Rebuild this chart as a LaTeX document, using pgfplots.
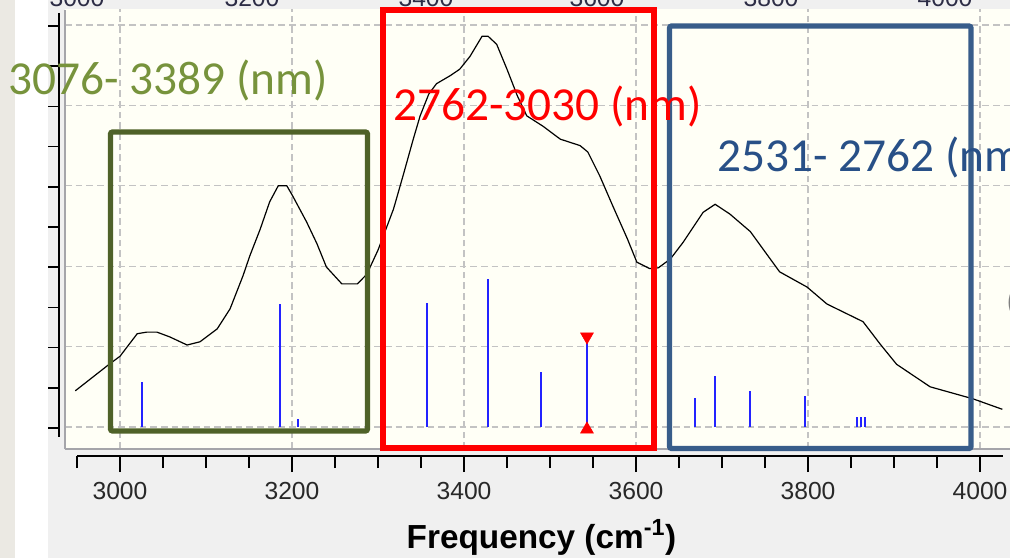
\documentclass[border=0pt]{standalone}
\usepackage{fontspec}
\setmainfont{Liberation Sans}
\newfontfamily\calibri{Carlito}
\usepackage{pgfplots}
\pgfplotsset{compat=1.18}
\definecolor{bgleft}{RGB}{235,233,227}
\definecolor{wingray}{RGB}{240,240,240}
\definecolor{cream}{RGB}{255,255,246}
\definecolor{gridc}{RGB}{195,195,195}
\definecolor{greentext}{RGB}{119,147,60}
\definecolor{greenbox}{RGB}{79,98,40}
\definecolor{bluebox}{RGB}{56,93,138}
\definecolor{bluetext}{RGB}{40,80,135}
\definecolor{stick}{RGB}{35,35,255}
\definecolor{bordergray}{RGB}{165,165,170}
\definecolor{ticklab}{RGB}{40,40,40}
\definecolor{toplab}{RGB}{45,45,70}
\begin{document}
\begin{tikzpicture}[x=0.75pt,y=0.75pt]
\useasboundingbox (0,0) rectangle (1010,558);
\clip (0,0) rectangle (1010,558);
\fill[bgleft] (0,0) rectangle (15,558);
\fill[white] (15,0) rectangle (48,558);
\fill[wingray] (48,0) rectangle (1010,558);
% partial top labels of a panel above
\foreach \x/\t in {77/3000,252/3200,426/3400,597/3600,771/3800,945/4000}
  \node[anchor=base, inner sep=0pt, font=\fontsize{18.5}{20}\selectfont, text=toplab] at (\x,551) {\t};

\begin{axis}[at={(48.75pt,81.75pt)}, anchor=south west, scale only axis,
  width=708.75pt, height=330pt,
  xmin=2936.05, xmax=4034.9, ymin=-0.2736, ymax=5.199,
  axis background/.style={fill=cream},
  axis line style={draw=none},
  xtick={3000,3200,...,4000}, ytick={0,1,...,5},
  xticklabels={}, yticklabels={},
  major tick length=0pt,
  grid=major,
  major grid style={gridc, line width=1pt, dash pattern=on 5pt off 3pt},
  clip=true]
\addplot[black, line width=0.9pt] coordinates {
(2948,0.45) (2985,0.76) (3000,0.88) (3020,1.16) (3031,1.18) (3043,1.18)
(3058,1.12) (3078,1.02) (3093,1.06) (3113,1.22) (3128,1.47) (3143,1.88)
(3151,2.13) (3163,2.46) (3174,2.80) (3184,3.00) (3194,3.00) (3201,2.87)
(3217,2.55) (3229,2.28) (3240,1.99) (3258,1.78) (3276,1.78) (3287,1.90)
(3300,2.20) (3318,2.71) (3329,3.12) (3341,3.58) (3349,3.87) (3359,4.14)
(3368,4.27) (3384,4.37) (3395,4.45) (3407,4.61) (3421,4.86) (3428,4.86)
(3438,4.76) (3450,4.45) (3462,4.12) (3473,3.87) (3492,3.74) (3512,3.58)
(3535,3.50) (3544,3.42) (3558,3.12) (3573,2.75) (3590,2.34) (3601,2.05)
(3616,1.97) (3626,1.98) (3640,2.09) (3655,2.30) (3678,2.67) (3692,2.77)
(3709,2.65) (3733,2.43) (3752,2.15) (3767,1.93) (3799,1.74) (3822,1.53)
(3864,1.31) (3884,1.03) (3903,0.78) (3942,0.50) (3992,0.35) (4026,0.22)};
\addplot[ycomb, stick, line width=1.5pt, no markers] coordinates {
(3026,0.56) (3186,1.53) (3207,0.10) (3357,1.54) (3428,1.84) (3490,0.68)
(3543,1.11) (3669,0.36) (3692,0.63) (3733,0.45) (3797,0.38)
(3857,0.13) (3862,0.13) (3866,0.13)};
\addplot[only marks, mark=triangle*, mark size=5.6pt, color=red] coordinates {(3543,-0.03)};
\addplot[only marks, mark=triangle*, mark size=5.6pt, color=red, mark options={rotate=180}] coordinates {(3543,1.125)};
\end{axis}

% plot area borders
\draw[bordergray, line width=1.5pt] (65,109) -- (65,548);
\draw[bordergray, line width=1.5pt] (65,109) -- (1010,109);

% left axis with ticks
\draw[black, line width=1.2pt] (59,545) -- (59,121);
\foreach \k in {0,...,10}
  \draw[black, line width=1.2pt] (48,{532-40.2*\k}) -- (59,{532-40.2*\k});

% bottom axis
\begin{axis}[at={(57.75pt,76.5pt)}, anchor=south west, scale only axis,
  width=694.5pt, height=10pt,
  xmin=2950, xmax=4026.74, ymin=0, ymax=1,
  axis y line=none, axis x line*=bottom,
  x axis line style={black, line width=1.2pt},
  xtick={3000,3200,...,4000},
  xticklabels={3000,3200,3400,3600,3800,4000},
  minor xtick={2950,3050,3100,3150,3250,3300,3350,3450,3500,3550,3650,3700,3750,3850,3900,3950},
  tick align=outside,
  major tick length=12pt, minor tick length=9pt,
  every tick/.style={black, line width=1.2pt},
  xticklabel style={font=\fontsize{18.5}{20}\selectfont, text=ticklab, anchor=base, yshift=-20.75pt}]
\addplot[draw=none] coordinates {(3000,0.5)};
\end{axis}

\node[anchor=base, inner sep=0pt, font=\bfseries\fontsize{25}{28}\selectfont] at (541.5,10) {Frequency (cm\textsuperscript{-1})};

% boxes
\draw[greenbox, line width=3.9pt, rounded corners=1.5pt] (110.5,426) rectangle (367.5,127);
\draw[red, line width=3.9pt] (383,548) rectangle (654,110);
\draw[bluebox, line width=3.9pt, rounded corners=1.5pt] (669.5,532) rectangle (971,109.5);

% annotations
\node[anchor=base west, inner sep=0pt, text=greentext, font=\calibri\fontsize{35.5}{40}\selectfont] at (8,463) {3076- 3389 (nm)};
\node[anchor=base west, inner sep=0pt, text=red, font=\calibri\fontsize{35.5}{40}\selectfont] at (393,437) {2762-3030 (nm)};
\node[anchor=base west, inner sep=0pt, text=bluetext, font=\calibri\fontsize{35.5}{40}\selectfont] at (717,386) {2531- 2762 (nm)};
\node[anchor=base west, inner sep=0pt, text=gray, font=\calibri\fontsize{24}{28}\selectfont] at (1006,246) {(};
\end{tikzpicture}
\end{document}
